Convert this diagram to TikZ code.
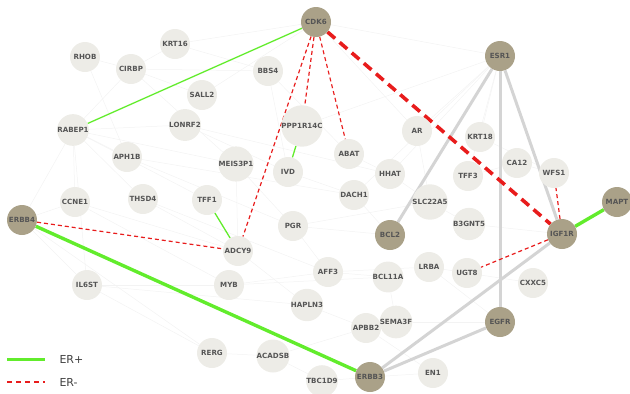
\documentclass[tikz,border=0pt]{standalone}
\usepackage{fontspec}
\setmainfont{DejaVu Sans}
\usepackage{tikz}
\usetikzlibrary{backgrounds}

\definecolor{genefill}{RGB}{237,236,231}
\definecolor{hubfill}{RGB}{170,161,136}
\definecolor{genetext}{RGB}{85,85,85}
\definecolor{erplus}{RGB}{98,236,44}
\definecolor{erminus}{RGB}{232,28,28}
\definecolor{hublink}{RGB}{212,212,212}
\definecolor{bglink}{RGB}{243,243,243}

\begin{document}
\begin{tikzpicture}
    [
        x=1pt, y=-1pt,
        gene/.style={circle, fill=genefill, minimum size=30pt, inner sep=0pt,
            text=genetext, font=\fontsize{7.1}{8}\selectfont\bfseries},
        hub/.style={gene, fill=hubfill},
        faint/.style={bglink, line width=0.5pt},
        esrlink/.style={hublink, line width=3pt},
        poslink/.style={erplus, line width=1.3pt},
        poslinkthick/.style={erplus, line width=3.4pt},
        neglink/.style={erminus, line width=1.2pt, dash pattern=on 4pt off 3pt},
        neglinkthick/.style={erminus, line width=3.6pt, dash pattern=on 10pt off 6pt},
    ]
    \useasboundingbox (0,0) rectangle (630,394);

    \node[gene] (RHOB) at (85,57) {RHOB};
    \node[gene] (KRT16) at (175,44) {KRT16};
    \node[gene] (CIRBP) at (131,69) {CIRBP};
    \node[gene] (SALL2) at (202,95) {SALL2};
    \node[gene] (BBS4) at (268,71) {BBS4};
    \node[gene] (RABEP1) at (73,130) {RABEP1};
    \node[gene] (LONRF2) at (185,125) {LONRF2};
    \node[gene] (PPP1R14C) at (302,126) {PPP1R14C};
    \node[gene] (APH1B) at (127,157) {APH1B};
    \node[gene] (MEIS3P1) at (236,164) {MEIS3P1};
    \node[gene] (IVD) at (288,172) {IVD};
    \node[gene] (ABAT) at (349,154) {ABAT};
    \node[gene] (HHAT) at (390,174) {HHAT};
    \node[gene] (AR) at (417,131) {AR};
    \node[gene] (KRT18) at (480,137) {KRT18};
    \node[gene] (CA12) at (517,163) {CA12};
    \node[gene] (TFF3) at (468,176) {TFF3};
    \node[gene] (WFS1) at (554,173) {WFS1};
    \node[gene] (CCNE1) at (75,202) {CCNE1};
    \node[gene] (THSD4) at (143,199) {THSD4};
    \node[gene] (TFF1) at (207,200) {TFF1};
    \node[gene] (DACH1) at (354,195) {DACH1};
    \node[gene] (SLC22A5) at (430,202) {SLC22A5};
    \node[gene] (B3GNT5) at (469,224) {B3GNT5};
    \node[gene] (PGR) at (293,226) {PGR};
    \node[gene] (ADCY9) at (238,251) {ADCY9};
    \node[gene] (AFF3) at (328,272) {AFF3};
    \node[gene] (BCL11A) at (388,277) {BCL11A};
    \node[gene] (LRBA) at (429,267) {LRBA};
    \node[gene] (UGT8) at (467,273) {UGT8};
    \node[gene] (CXXC5) at (533,283) {CXXC5};
    \node[gene] (IL6ST) at (87,285) {IL6ST};
    \node[gene] (MYB) at (229,285) {MYB};
    \node[gene] (HAPLN3) at (307,305) {HAPLN3};
    \node[gene] (APBB2) at (366,328) {APBB2};
    \node[gene] (SEMA3F) at (396,322) {SEMA3F};
    \node[gene] (RERG) at (212,353) {RERG};
    \node[gene] (ACADSB) at (273,356) {ACADSB};
    \node[gene] (TBC1D9) at (322,381) {TBC1D9};
    \node[gene] (EN1) at (433,373) {EN1};

    \node[hub] (CDK6) at (316,22) {CDK6};
    \node[hub] (ESR1) at (500,56) {ESR1};
    \node[hub] (ERBB4) at (22,220) {ERBB4};
    \node[hub] (BCL2) at (390,235) {BCL2};
    \node[hub] (IGF1R) at (562,234) {IGF1R};
    \node[hub] (MAPT) at (617,202) {MAPT};
    \node[hub] (EGFR) at (500,322) {EGFR};
    \node[hub] (ERBB3) at (370,377) {ERBB3};

    \begin{pgfonlayer}{background}
        \foreach \a/\b in {RABEP1/CIRBP, RABEP1/APH1B, RABEP1/CCNE1, RABEP1/LONRF2,
            RABEP1/MEIS3P1, RABEP1/THSD4, RABEP1/ERBB4, RABEP1/IL6ST, RABEP1/TFF1,
            RHOB/CIRBP, RHOB/APH1B, CIRBP/KRT16, CIRBP/SALL2, CIRBP/BBS4,
            CIRBP/MEIS3P1, KRT16/CDK6, KRT16/BBS4, CDK6/ESR1, CDK6/AR, CDK6/SALL2,
            ESR1/AR, ESR1/DACH1, ESR1/PPP1R14C, ESR1/KRT18, ESR1/HHAT, ESR1/TFF3,
            BBS4/ABAT, BBS4/IVD, LONRF2/IVD, LONRF2/HHAT, APH1B/PGR, APH1B/DACH1,
            MEIS3P1/ADCY9, MEIS3P1/PGR, CCNE1/ADCY9, CCNE1/MYB, THSD4/ADCY9,
            THSD4/AFF3, IL6ST/MYB, IL6ST/RERG, IL6ST/HAPLN3, MYB/AFF3, MYB/BCL11A,
            PGR/BCL2, PGR/SLC22A5, PGR/AFF3, ADCY9/HAPLN3, RERG/ACADSB,
            ACADSB/TBC1D9, ACADSB/APBB2, HAPLN3/APBB2, AFF3/BCL11A, AFF3/LRBA,
            BCL11A/SEMA3F, SEMA3F/EGFR, APBB2/EN1, EN1/ERBB3, TBC1D9/ERBB3,
            LRBA/UGT8, SLC22A5/B3GNT5, B3GNT5/IGF1R, TFF3/CA12, CA12/WFS1,
            KRT18/WFS1, AR/SLC22A5, HHAT/SLC22A5, DACH1/BCL2, IVD/DACH1,
            ABAT/HHAT, UGT8/CXXC5, LRBA/EGFR, ERBB4/CCNE1, ERBB4/RERG, ERBB4/IL6ST}
            \draw[faint] (\a) -- (\b);

        \draw[esrlink] (ESR1) -- (BCL2);
        \draw[esrlink] (ESR1) -- (EGFR);
        \draw[esrlink] (ESR1) -- (IGF1R);
        \draw[esrlink] (IGF1R) -- (ERBB3);
        \draw[esrlink] (EGFR) -- (ERBB3);

        \draw[poslink] (CDK6) -- (RABEP1);
        \draw[poslink] (PPP1R14C) -- (IVD);
        \draw[poslink] (TFF1) -- (ADCY9);
        \draw[poslinkthick] (ERBB4) -- (ERBB3);
        \draw[poslinkthick] (IGF1R) -- (MAPT);

        \draw[neglinkthick] (CDK6) -- (IGF1R);
        \draw[neglink] (CDK6) -- (ADCY9);
        \draw[neglink] (CDK6) -- (PPP1R14C);
        \draw[neglink] (CDK6) -- (ABAT);
        \draw[neglink] (ERBB4) -- (ADCY9);
        \draw[neglink] (IGF1R) -- (UGT8);
        \draw[neglink] (IGF1R) -- (WFS1);
    \end{pgfonlayer}

    \coordinate (posA) at (7,359);
    \coordinate (posB) at (45,359);
    \coordinate (negA) at (7,382);
    \coordinate (negB) at (45,382);
    \draw[erplus, line width=3pt] (posA) -- (posB);
    \draw[erminus, line width=2pt, dash pattern=on 5pt off 4pt] (negA) -- (negB);
    \node[anchor=west, text=black!75, font=\fontsize{11}{12}\selectfont] (lplus) at (56,359) {ER+};
    \node[anchor=west, text=black!75, font=\fontsize{11}{12}\selectfont] (lminus) at (56,382) {ER-};
\end{tikzpicture}
\end{document}
